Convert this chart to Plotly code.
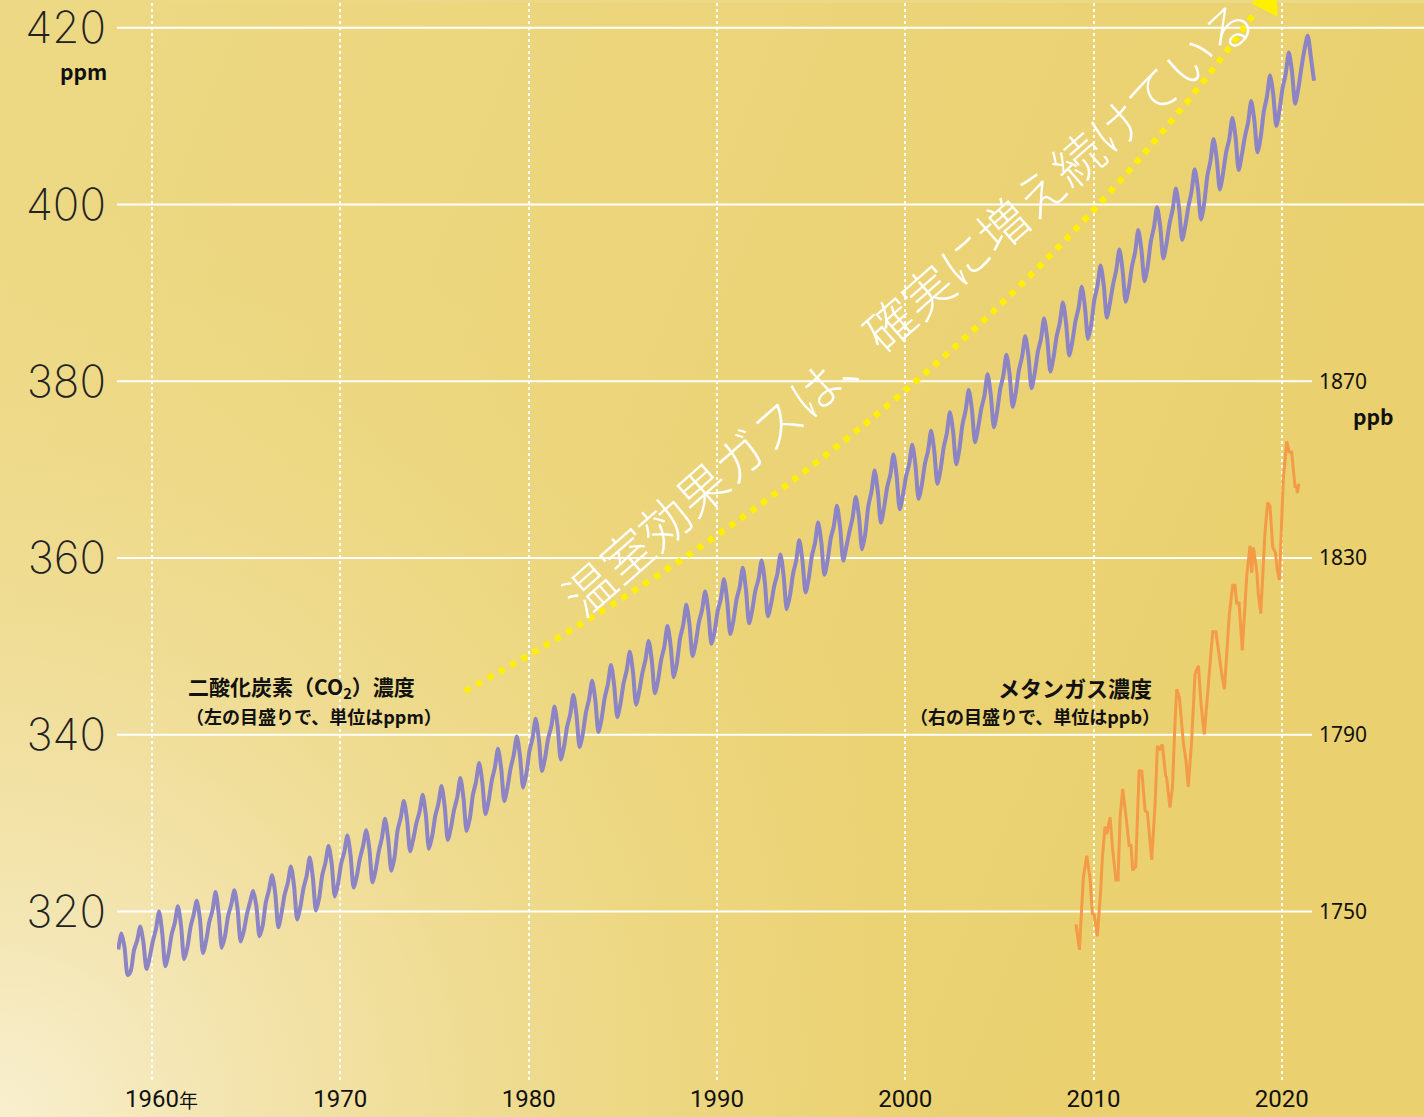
import base64
import plotly.graph_objects as go

# ---------------- data ----------------
co2_months = [1, 3, 5, 7, 9, 11]
co2_years = list(range(1958, 2022))
co2_rows = [
    [None, 315.7, 317.5, 315.9, 312.8, 313.3],
    [315.6, 316.7, 318.3, 316.5, 313.5, 314.8],
    [316.6, 318.0, 320.0, 317.6, 313.8, 315.2],
    [317.4, 318.7, 320.6, 318.4, 314.6, 315.9],
    [318.2, 319.6, 321.2, 319.2, 315.3, 316.7],
    [318.8, 320.1, 322.2, 319.7, 315.9, 317.2],
    [319.5, 320.8, 322.4, 320.3, 316.6, 317.8],
    [319.7, 321.1, 322.3, 320.6, 317.2, 318.4],
    [321.0, 322.4, 324.1, 322.1, 318.2, 319.8],
    [321.9, 323.2, 325.1, 322.9, 319.1, 320.5],
    [322.6, 324.0, 326.1, 323.8, 320.1, 321.5],
    [324.1, 325.5, 327.4, 325.4, 321.7, 323.1],
    [325.4, 326.7, 328.6, 326.4, 322.7, 324.0],
    [326.0, 327.4, 329.2, 327.1, 323.3, 324.7],
    [326.8, 328.3, 330.5, 328.2, 324.6, 326.1],
    [329.2, 330.6, 332.5, 330.4, 326.8, 328.2],
    [330.0, 331.3, 333.2, 330.9, 327.1, 328.5],
    [330.8, 332.2, 334.2, 331.9, 328.1, 329.5],
    [331.5, 332.9, 335.1, 332.8, 329.1, 330.5],
    [333.2, 334.7, 336.8, 334.6, 331.0, 332.5],
    [334.8, 336.3, 338.4, 336.2, 332.5, 334.0],
    [336.2, 337.7, 339.8, 337.6, 334.0, 335.5],
    [338.1, 339.6, 341.8, 339.5, 335.9, 337.4],
    [339.6, 341.0, 343.2, 340.9, 337.2, 338.6],
    [340.9, 342.3, 344.5, 342.2, 338.6, 340.1],
    [342.5, 344.0, 346.1, 343.9, 340.3, 341.8],
    [344.2, 345.7, 347.9, 345.6, 342.0, 343.5],
    [345.8, 347.3, 349.4, 347.1, 343.4, 344.9],
    [347.0, 348.5, 350.6, 348.4, 344.7, 346.2],
    [348.5, 350.0, 352.3, 350.1, 346.5, 348.1],
    [350.9, 352.4, 354.7, 352.5, 348.9, 350.4],
    [352.7, 354.1, 356.2, 354.0, 350.3, 351.7],
    [354.0, 355.4, 357.6, 355.2, 351.4, 352.9],
    [355.3, 356.7, 358.9, 356.4, 352.6, 354.1],
    [356.3, 357.6, 359.7, 357.3, 353.4, 354.8],
    [356.8, 358.2, 360.4, 358.0, 354.2, 355.7],
    [358.2, 359.7, 362.0, 359.7, 356.1, 357.7],
    [360.2, 361.7, 364.0, 361.8, 358.1, 359.7],
    [362.2, 363.6, 365.9, 363.5, 359.7, 361.3],
    [363.0, 364.6, 366.9, 364.7, 361.0, 362.7],
    [365.9, 367.5, 369.9, 367.6, 364.0, 365.7],
    [368.0, 369.4, 371.7, 369.3, 365.5, 367.1],
    [369.2, 370.6, 372.8, 370.5, 366.7, 368.2],
    [370.6, 372.1, 374.4, 372.1, 368.4, 370.0],
    [372.5, 374.1, 376.5, 374.3, 370.6, 372.3],
    [375.1, 376.7, 379.0, 376.8, 373.1, 374.8],
    [376.9, 378.4, 380.8, 378.5, 374.8, 376.5],
    [379.1, 380.6, 383.0, 380.8, 377.1, 378.8],
    [381.3, 382.8, 385.1, 382.9, 379.2, 380.9],
    [383.3, 384.8, 387.1, 384.8, 381.1, 382.7],
    [385.1, 386.6, 388.9, 386.6, 382.9, 384.5],
    [386.8, 388.3, 390.7, 388.4, 384.8, 386.4],
    [389.2, 390.8, 393.1, 390.9, 387.2, 388.9],
    [391.0, 392.6, 394.9, 392.6, 389.0, 390.6],
    [393.0, 394.6, 397.1, 394.9, 391.3, 393.0],
    [395.8, 397.4, 399.7, 397.5, 393.9, 395.6],
    [397.9, 399.5, 401.8, 399.6, 396.0, 397.6],
    [399.8, 401.5, 404.0, 401.8, 398.3, 400.1],
    [403.2, 404.9, 407.4, 405.2, 401.7, 403.5],
    [405.9, 407.4, 409.8, 407.6, 403.9, 405.6],
    [407.7, 409.3, 411.7, 409.5, 405.9, 407.6],
    [410.5, 412.2, 414.6, 412.5, 408.9, 410.7],
    [413.2, 414.8, 417.2, 415.0, 411.4, 413.1],
    [415.5, 417.6, 419.1, 416.7, 414.0, None],
]

ch4_dates = [
    2009.07, 2009.25, 2009.46, 2009.64, 2009.81, 2009.94, 2010.04, 2010.20,
    2010.38, 2010.47, 2010.61, 2010.70, 2010.88, 2011.02, 2011.19, 2011.30,
    2011.41, 2011.55, 2011.73, 2011.89, 2011.99, 2012.08, 2012.24, 2012.42,
    2012.56, 2012.74, 2012.86, 2013.09, 2013.27, 2013.39, 2013.48, 2013.65,
    2013.83, 2013.88, 2014.06, 2014.19, 2014.33, 2014.42, 2014.56, 2014.77,
    2014.91, 2015.03, 2015.21, 2015.39, 2015.57, 2015.71, 2015.88, 2016.15,
    2016.33, 2016.50, 2016.66, 2016.81, 2016.95, 2017.21, 2017.39, 2017.51,
    2017.60, 2017.73, 2017.90, 2018.14, 2018.31, 2018.40, 2018.49, 2018.67,
    2018.75, 2018.88, 2019.11, 2019.25, 2019.37, 2019.52, 2019.66, 2019.76,
    2019.87, 2020.08, 2020.26, 2020.39, 2020.52, 2020.61, 2020.70, 2020.78,
    2020.82, 2020.91,
]
ch4_ppb = [
    1747.1, 1741.3, 1757.7, 1762.6, 1757.7, 1749.5, 1749.2, 1744.4,
    1754.7, 1762.2, 1769.2, 1767.5, 1771.3, 1763.8, 1757.1, 1757.1,
    1771.3, 1777.7, 1771.3, 1764.9, 1764.9, 1759.3, 1760.2, 1781.8,
    1781.8, 1772.8, 1772.4, 1761.7, 1774.3, 1787.5, 1786.5, 1787.8,
    1780.7, 1780.3, 1773.5, 1778.0, 1793.1, 1800.3, 1798.4, 1788.2,
    1784.1, 1778.2, 1788.6, 1803.7, 1805.6, 1796.9, 1790.1, 1803.7,
    1813.3, 1813.3, 1808.2, 1803.7, 1800.3, 1817.2, 1823.8, 1823.8,
    1819.8, 1819.8, 1809.1, 1826.2, 1832.8, 1826.6, 1832.4, 1827.0,
    1821.8, 1817.4, 1836.1, 1842.5, 1841.8, 1832.4, 1831.2, 1827.2,
    1825.0, 1848.1, 1856.4, 1854.0, 1854.0, 1850.3, 1846.2, 1846.2,
    1844.7, 1846.8,
]

left_ticks = [320, 340, 360, 380, 400, 420]
right_ticks = [1750, 1790, 1830, 1870]
x_ticks = [1960, 1970, 1980, 1990, 2000, 2010, 2020]
x_ticktext = ["1960", "1970", "1980", "1990", "2000", "2010", "2020"]

# ---------------- build series ----------------
co2_x, co2_y = [], []
for yr, row in zip(co2_years, co2_rows):
    for m, v in zip(co2_months, row):
        if v is not None:
            co2_x.append(yr + (m - 0.5) / 12)
            co2_y.append(v)

# ---------------- geometry ----------------
W, H = 1424, 1117
ML, MR, MT, MB = 117, 0, 0, 35
PW, PH = W - ML - MR, H - MT - MB
X_RANGE = [1958.14, 2027.55]
Y_RANGE = [300.7, 422.8]
Y2_RANGE = [1750 + 2 * (Y_RANGE[0] - 320), 1750 + 2 * (Y_RANGE[1] - 320)]


def px_x(px):
    return (px - ML) / PW


def px_y(py):
    return 1 - (py - MT) / PH


# ---------------- background gradient ----------------
svg = (
    f'<svg xmlns="http://www.w3.org/2000/svg" width="{W}" height="{H}">'
    '<defs>'
    '<linearGradient id="a" x1="0" y1="0" x2="1" y2="0.3">'
    '<stop offset="0" stop-color="#EDD985"/>'
    '<stop offset="1" stop-color="#EAD06E"/>'
    '</linearGradient>'
    f'<radialGradient id="b" gradientUnits="userSpaceOnUse" cx="0" cy="{H}" r="950">'
    '<stop offset="0" stop-color="#F8EFCF" stop-opacity="1"/>'
    '<stop offset="0.35" stop-color="#F3E4AE" stop-opacity="0.8"/>'
    '<stop offset="1" stop-color="#EDD985" stop-opacity="0"/>'
    '</radialGradient>'
    '</defs>'
    f'<rect width="{W}" height="{H}" fill="url(#a)"/>'
    f'<rect width="{W}" height="{H}" fill="url(#b)"/>'
    '</svg>'
)
bg_src = "data:image/svg+xml;base64," + base64.b64encode(svg.encode()).decode()

fig = go.Figure()

fig.add_trace(go.Scatter(
    x=co2_x, y=co2_y, mode="lines",
    line=dict(color="#8C84C4", width=4, shape="spline", smoothing=0.7),
    hoverinfo="skip", showlegend=False,
))
fig.add_trace(go.Scatter(
    x=ch4_dates, y=ch4_ppb, mode="lines", yaxis="y2",
    line=dict(color="#F39B47", width=3),
    hoverinfo="skip", showlegend=False,
))

shapes = []
# horizontal grid lines
for v in left_ticks:
    x1 = 1.0 if v >= 400 else px_x(1312)
    shapes.append(dict(type="line", xref="paper", yref="y", x0=0, x1=x1, y0=v, y1=v,
                       line=dict(color="white", width=2), layer="below"))
# curved dotted arrow
p0 = (1976.62, 344.94)
c = (2003.23, 376.04)
p2 = (2018.68, 422.03)
shapes.append(dict(type="path", xref="x", yref="y",
                   path=f"M {p0[0]},{p0[1]} Q {c[0]},{c[1]} {p2[0]},{p2[1]}",
                   line=dict(color="#FFF000", width=6, dash="6px,7px"), layer="above"))
# arrow head (mostly beyond the top edge)
head_px = [(1252, 0), (1277, 13), (1276, -16)]
head_path = "M " + " L ".join(f"{px_x(a):.5f},{px_y(b):.5f}" for a, b in head_px) + " Z"
shapes.append(dict(type="path", xref="paper", yref="paper", path=head_path,
                   fillcolor="#FFF000", line=dict(color="#FFF000", width=1), layer="above"))

CJK = "Noto Sans CJK JP"
annotations = [
    dict(text="温室効果ガスは、確実に増え続けている", xref="paper", yref="paper",
         x=px_x(907), y=px_y(304), xanchor="center", yanchor="middle",
         textangle=-41.3, showarrow=False,
         font=dict(family=CJK, size=50, color="white", weight=300)),
    dict(text="ppm", xref="paper", yref="paper", x=px_x(83), y=px_y(68),
         xanchor="center", yanchor="middle", showarrow=False,
         font=dict(family=CJK, size=21, color="#111", weight="bold")),
    dict(text="ppb", xref="paper", yref="paper", x=px_x(1373), y=px_y(414),
         xanchor="center", yanchor="middle", showarrow=False,
         font=dict(family=CJK, size=21, color="#111", weight="bold")),
    dict(text="年", xref="paper", yref="paper", x=px_x(188), y=px_y(1100),
         xanchor="center", yanchor="middle", showarrow=False,
         font=dict(family=CJK, size=19, color="#111")),
    dict(text="二酸化炭素（CO<sub>2</sub>）濃度", xref="paper", yref="paper",
         x=px_x(186), y=px_y(686), xanchor="left", yanchor="middle", showarrow=False,
         font=dict(family=CJK, size=21, color="#111", weight="bold")),
    dict(text="（左の目盛りで、単位はppm）", xref="paper", yref="paper",
         x=px_x(184), y=px_y(715), xanchor="left", yanchor="middle", showarrow=False,
         font=dict(family=CJK, size=18, color="#111", weight="bold")),
    dict(text="メタンガス濃度", xref="paper", yref="paper",
         x=px_x(1154), y=px_y(686), xanchor="right", yanchor="middle", showarrow=False,
         font=dict(family=CJK, size=22, color="#111", weight="bold")),
    dict(text="（右の目盛りで、単位はppb）", xref="paper", yref="paper",
         x=px_x(1162), y=px_y(715), xanchor="right", yanchor="middle", showarrow=False,
         font=dict(family=CJK, size=18, color="#111", weight="bold")),
]

fig.update_layout(
    width=W, height=H,
    margin=dict(l=ML, r=MR, t=MT, b=MB),
    paper_bgcolor="#EDD985",
    plot_bgcolor="rgba(0,0,0,0)",
    images=[dict(source=bg_src, xref="paper", yref="paper",
                 x=-ML / PW, y=1 + MT / PH, sizex=W / PW, sizey=H / PH,
                 xanchor="left", yanchor="top", sizing="stretch", layer="below")],
    shapes=shapes,
    annotations=annotations,
    xaxis=dict(range=X_RANGE, tickvals=x_ticks, ticktext=x_ticktext,
               showgrid=True, gridcolor="white", griddash="dot", gridwidth=1.5,
               zeroline=False, showline=False, ticks="",
               tickfont=dict(family="Liberation Sans Narrow, Roboto, sans-serif", size=24, color="#111")),
    yaxis=dict(range=Y_RANGE, tickvals=left_ticks, showgrid=False, zeroline=False,
               showline=False, ticks="", ticklabelstandoff=10, ticklabeloverflow="allow",
               tickfont=dict(family="Inter, Lato, sans-serif", size=44, color="#222", weight=200)),
    yaxis2=dict(range=Y2_RANGE, tickvals=right_ticks, overlaying="y", side="right",
                anchor="free", position=px_x(1312), showgrid=False, zeroline=False,
                showline=False, ticks="", ticklabelstandoff=6, ticklabeloverflow="allow",
                tickfont=dict(family="Noto Sans, sans-serif", size=21, color="#111")),
    showlegend=False,
)

fig.write_html(
    "out.html",
    config={"displayModeBar": False},
    post_script="document.body.style.margin='0';document.body.style.padding='0';"
                "document.body.style.overflow='hidden';",
)
